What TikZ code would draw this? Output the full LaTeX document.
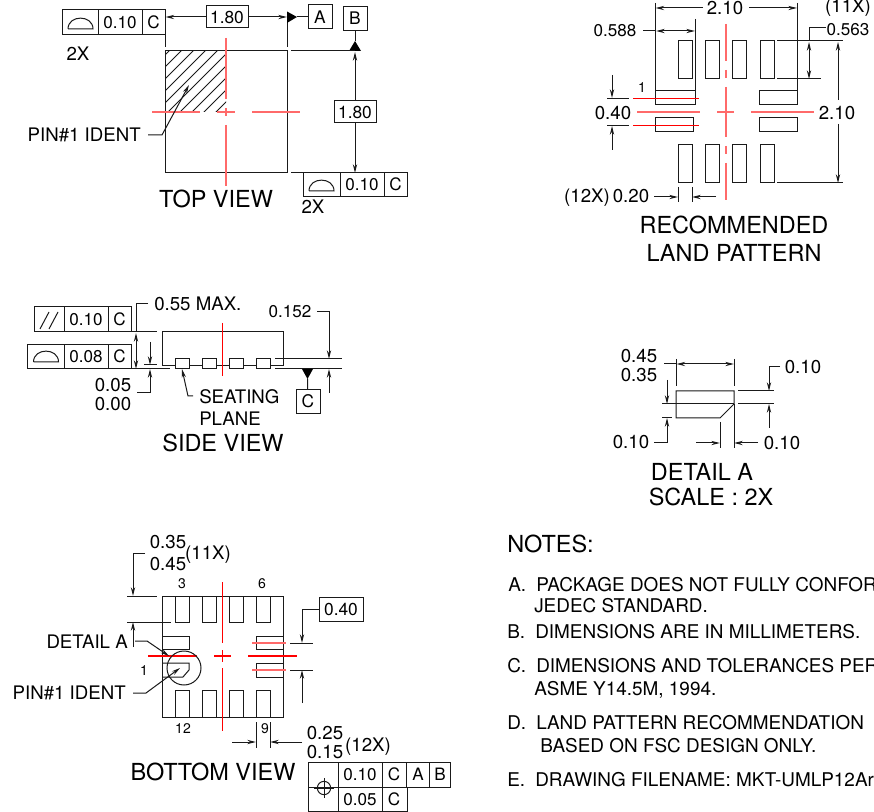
\documentclass[tikz,border=0pt]{standalone}
\usepackage{fontspec}
\setmainfont{TeX Gyre Heros}
\usetikzlibrary{arrows.meta}
\definecolor{ink}{HTML}{1A1A1A}
\definecolor{redsoft}{HTML}{FF6A6A}
\newcounter{tc}
\newcommand\lbx[5]{\stepcounter{tc}\node[anchor=#1,inner sep=0pt,text=black,font=\fontsize{#2}{#2}\selectfont] (t\thetc) at (#3,#4) {\vphantom{0}\smash{#5}};}
\newcommand\tbig[3]{\lbx{center}{17.6}{#1}{#2}{#3}}
\newcommand\tmid[3]{\lbx{center}{14}{#1}{#2}{#3}}
\newcommand\tbx[3]{\lbx{center}{12.8}{#1}{#2}{#3}}
\newcommand\tsm[3]{\lbx{center}{10.5}{#1}{#2}{#3}}
\newcommand\tnt[3]{\lbx{west}{14.2}{#1}{#2}{#3}}
\newcommand\semisym[2]{\draw[ln] (#1-12.5,#2) -- (#1+12.5,#2) .. controls (#1+12.5,#2-14.5) and (#1-12.5,#2-14.5) .. (#1-12.5,#2);}
% x0, d1, d2, x3, y0, y1, value
\newcommand\frm[7]{\draw[ln] (#1,#5) rectangle (#4,#6) (#2,#5) -- (#2,#6) (#3,#5) -- (#3,#6);
\tbx{{(#2+#3)/2}}{{(#5+#6)/2}}{#7}\tbx{{(#3+#4)/2}}{{(#5+#6)/2}}{C}}
\newcommand\padr[4]{\draw[ln] (#1,#2) rectangle (#3,#4);}
\begin{document}
\begin{tikzpicture}[x=0.75pt,y=-0.75pt,
  ln/.style={draw=ink,line width=0.75pt},
  ar/.style={ln,-{Stealth[length=6.5pt,width=3.2pt]}},
  dar/.style={ln,{Stealth[length=6.5pt,width=3.2pt]}-{Stealth[length=6.5pt,width=3.2pt]}},
  rd/.style={draw=redsoft,line width=1.1pt},
  rdt/.style={draw=red,line width=0.8pt},
  dbox/.style={draw=ink,line width=0.75pt,inner sep=0pt,font=\fontsize{13}{13}\selectfont}]
\useasboundingbox (0,0) rectangle (874,812);
\fill[white] (0,0) rectangle (874,812);

% ---------- TOP VIEW
\begin{scope}
\clip (165,51) rectangle (226,112);
\foreach \c in {220,232,...,328} \draw[ln,line width=0.6pt] (\c-170,170) -- (\c-40,40);
\end{scope}
\draw[ln] (165,51) rectangle (287,173);
\foreach \a/\b in {38/99,108/116,125/186} \draw[rd] (226,\a) -- (226,\b);
\foreach \a/\b in {152/200,217/235,252/300} \draw[rd] (\a,112) -- (\b,112);
\frm{62}{98}{142}{165}{10}{35}{0.10}
\semisym{80.5}{29}
\tmid{78}{54}{2X}
\draw[ln] (165,35) -- (165,47);
\draw[ln] (287,12) -- (287,47);
\node[dbox,minimum width=31.5pt,minimum height=16.5pt] (d1) at (227,17) {1.80};
\draw[ar] (d1) -- (165.5,17);
\draw[ar] (d1) -- (287,17);
\node[dbox,minimum size=18pt] (dA) at (320,17) {A};
\node[dbox,minimum size=18pt] (dB) at (355,18.5) {B};
\fill[black] (287,11.5) -- (297,17) -- (287,23) -- cycle;
\coordinate (tA) at (297,17);
\draw[ln] (tA) -- (dA);
\fill[black] (349,51) -- (355,41) -- (361,51) -- cycle;
\coordinate (tB) at (355,41);
\draw[ln] (dB) -- (tB);
\draw[ln] (291,51) -- (355,51);
\draw[ln] (291,173) -- (303,173);
\node[dbox,minimum width=31.5pt,minimum height=16.5pt] (d2) at (355,112) {1.80};
\draw[ar] (d2) -- (355,52);
\draw[ar] (d2) -- (355,173);
\frm{303}{340}{384}{407}{173}{197}{0.10}
\semisym{321.5}{191}
\tmid{313}{207}{2X}
\lbx{east}{14}{141}{135}{PIN\#1 IDENT}
\draw[ar] (148,135) -- (162,135) -- (189,85);
\tbig{216}{199}{TOP VIEW}

% ---------- LAND PATTERN
\foreach \x/\w in {678/692,705/719,732/746,760/774} {\padr{\x}{41}{\w}{79}\padr{\x}{145}{\w}{183}}
\padr{655}{91}{695}{105}
\padr{655}{118}{693}{132}
\padr{759}{91}{797}{105}
\padr{759}{118}{797}{132}
\foreach \a/\b in {24/61,70/78,87/137,146/154,163/200} \draw[rd] (726,\a) -- (726,\b);
\foreach \a/\b in {637/700,717/734,751/814} \draw[rd] (\a,112) -- (\b,112);
\draw[rdt] (633,98.5) -- (699,98.5);
\draw[rdt] (633,125.5) -- (699,125.5);
\draw[ln] (607,98.5) -- (629,98.5);
\draw[ln] (607,125.5) -- (629,125.5);
\draw[ar] (612,75) -- (612,98);
\draw[ar] (612,150) -- (612,126);
\tmid{613}{113}{0.40}
\draw[ln] (655,3) -- (655,91);
\draw[ln] (797,3) -- (797,91);
\tmid{725}{8}{2.10}
\draw[ar] (703,8) -- (655.5,8);
\draw[ar] (749,8) -- (797,8);
\lbx{center}{12.8}{615}{31}{0.588}
\draw[ln] (643,31) -- (655,31);
\draw[dar] (656,31) -- (695,31);
\draw[ln] (695,19) -- (695,91);
\tmid{848}{6}{(11X)}
\lbx{center}{12.8}{848}{30}{0.563}
\draw[ln] (826,28) -- (809,28) -- (809,41);
\draw[dar] (809,42) -- (809,79);
\draw[ln] (777,41) -- (843,41);
\draw[ln] (777,79) -- (821,79);
\draw[ln] (777,183) -- (843,183);
\tmid{837}{113}{2.10}
\draw[ar] (838,100) -- (838,42);
\draw[ar] (838,124) -- (838,183);
\tmid{587}{196}{(12X)}
\tmid{631}{196}{0.20}
\draw[ln] (678,187) -- (678,202);
\draw[ln] (692,187) -- (692,202);
\draw[ar] (654,197) -- (678,197);
\draw[ar] (716,197) -- (692,197);
\tsm{642}{88}{1}
\tbig{734}{225}{RECOMMENDED}
\tbig{734}{253}{LAND PATTERN}

% ---------- SIDE VIEW
\frm{34}{64}{108}{131}{307}{332}{0.10}
\draw[ln] (40,329) -- (49,312) (49,329) -- (58,312);
\frm{27}{64}{108}{131}{345}{369}{0.08}
\semisym{46}{362}
\draw[ln] (131,332) -- (157,332);
\draw[ln] (131,369) -- (170,369);
\draw[ln] (162,366) -- (162,332) -- (283,332) -- (283,366);
\draw[ln] (162,366) -- (175,366) (189,366) -- (202,366) (216,366) -- (229,366) (243,366) -- (256,366) (270,366) -- (283,366);
\foreach \x/\w in {175/189,202/216,229/243,256/270} \padr{\x}{359}{\w}{369}
\draw[ln] (275,359) -- (342,359);
\draw[ln] (275,369) -- (342,369);
\draw[rdt] (222.5,323) -- (222.5,376);
\lbx{west}{14}{154}{304}{0.55 MAX.}
\draw[ln] (148,304) -- (136,304) -- (136,332);
\draw[dar] (136,333) -- (136,369);
\draw[ln] (144,365) -- (157,365);
\draw[ar] (150,342) -- (150,365);
\draw[ar] (137,393) -- (150,393) -- (150,369);
\tmid{113}{385}{0.05}
\tmid{113}{404}{0.00}
\draw[ar] (193,396) -- (188,396) -- (182,369);
\lbx{west}{14}{199}{397}{SEATING}
\lbx{west}{14}{199}{419}{PLANE}
\tbig{223}{443}{SIDE VIEW}
\lbx{center}{12.8}{290}{312}{0.152}
\draw[ar] (317,312) -- (329,312) -- (329,359);
\draw[ar] (329,393) -- (329,369);
\node[dbox,minimum size=18pt] (dC) at (308,401.5) {C};
\fill[black] (302,369) -- (313,369) -- (307.5,379) -- cycle;
\coordinate (tC) at (307.5,379);
\draw[ln] (tC) -- (dC);

% ---------- DETAIL A
\draw[ln] (676,391) -- (734,391) -- (734,404) -- (720,418) -- (676,418) -- cycle;
\draw[ln] (662,404) -- (734,404);
\draw[ln] (662,418) -- (672,418);
\draw[ln] (676,359) -- (676,386);
\draw[ln] (734,359) -- (734,386);
\draw[ln] (664,364) -- (676,364);
\draw[dar] (676.5,364) -- (734,364);
\tmid{639}{356}{0.45}
\tmid{639}{375}{0.35}
\draw[ar] (667,380) -- (667,404);
\draw[ar] (654,443) -- (667,443) -- (667,418);
\tmid{631}{442}{0.10}
\draw[ar] (780,367) -- (769,367) -- (769,391);
\tmid{803}{367}{0.10}
\draw[ln] (738,391) -- (774,391);
\draw[ln] (738,404) -- (774,404);
\draw[ar] (769,428) -- (769,404);
\draw[ln] (720,422) -- (720,448);
\draw[ln] (734,404) -- (734,448);
\draw[ar] (696,443) -- (720,443);
\draw[ar] (758,443) -- (734,443);
\tmid{782}{443}{0.10}
\tbig{702}{472}{DETAIL A}
\tbig{711}{497}{SCALE : 2X}

% ---------- BOTTOM VIEW
\draw[ln] (162,596) rectangle (283,717);
\foreach \x/\w in {175/189,202/216,229/243,256/270} {
  \draw[ln] (\x,596) -- (\x,622) -- (\w,622) -- (\w,596);
  \draw[ln] (\x,717) -- (\x,690) -- (\w,690) -- (\w,717);}
\draw[ln] (162,636) rectangle (189,649);
\draw[ln] (162,663) -- (189,663) -- (189,670) -- (183,677) -- (162,677);
\draw[ln] (283,636) -- (256,636) -- (256,649) -- (283,649);
\draw[ln] (283,663) -- (256,663) -- (256,677) -- (283,677);
\foreach \a/\b in {582/643,650/662,668/731} \draw[rdt] (222.5,\a) -- (222.5,\b);
\foreach \a/\b in {148/197,214/231,248/297} \draw[rdt] (\a,656) -- (\b,656);
\draw[rd] (252,643) -- (286,643);
\draw[rd] (252,670) -- (286,670);
\draw[ln] (290,643) -- (313,643);
\draw[ln] (290,670) -- (313,670);
\draw[ln] (184,668) circle[radius=12.75pt];
\node[dbox,minimum width=33pt,minimum height=18pt] (d40) at (341,609) {0.40};
\draw[ar] (d40) -- (302,609) -- (302,643);
\draw[ar] (302,703) -- (302,670);
\draw[ln] (127,596) -- (157,596);
\draw[ln] (127,622) -- (171,622);
\draw[ar] (145,553) -- (133,553) -- (133,596);
\draw[ar] (133,647) -- (133,622);
\tmid{168}{542}{0.35}
\tmid{168}{564}{0.45}
\tmid{208}{553}{(11X)}
\tsm{182}{584}{3}
\tsm{262}{584}{6}
\tsm{183}{729}{12}
\tsm{265}{729}{9}
\tsm{144}{671}{1}
\lbx{east}{14}{128}{642}{DETAIL A}
\draw[ar] (135,641) -- (147,641) -- (169,656);
\lbx{east}{14}{126}{693}{PIN\#1 IDENT}
\draw[ar] (133,693) -- (146,693) -- (180,668);
\draw[ln] (256,722) -- (256,748);
\draw[ln] (270,722) -- (270,748);
\draw[ar] (232,742) -- (256,742);
\draw[ar] (302,742) -- (270,742);
\tmid{325}{733}{0.25}
\tmid{325}{752}{0.15}
\tmid{368}{745}{(12X)}
\tbig{213}{772}{BOTTOM VIEW}
% position frame
\draw[ln] (308,762) rectangle (450,787);
\draw[ln] (308,787) rectangle (407,811);
\draw[ln] (338,762) -- (338,811) (382,762) -- (382,811) (406,762) -- (406,787) (429,762) -- (429,787);
\draw[ln] (324,788) circle[radius=5pt];
\draw[ln] (314,788) -- (334,788) (324,778) -- (324,798);
\tbx{360}{775}{0.10}
\tbx{394}{775}{C}
\tbx{418}{775}{A}
\tbx{440}{775}{B}
\tbx{360}{800}{0.05}
\tbx{394}{800}{C}

% ---------- NOTES
\lbx{west}{17.6}{507}{544}{NOTES:}
\tnt{508}{585}{A.}
\tnt{536}{585}{PACKAGE DOES NOT FULLY CONFOR}
\tnt{534}{606}{JEDEC STANDARD.}
\tnt{507}{632}{B.}
\tnt{535}{632}{DIMENSIONS ARE IN MILLIMETERS.}
\tnt{507}{666}{C.}
\tnt{536}{666}{DIMENSIONS AND TOLERANCES PER}
\tnt{534}{689}{ASME Y14.5M, 1994.}
\tnt{507}{723}{D.}
\tnt{536}{723}{LAND PATTERN RECOMMENDATION}
\tnt{540}{746}{BASED ON FSC DESIGN ONLY.}
\tnt{507}{780}{E.}
\tnt{535}{780}{DRAWING FILENAME: MKT-UMLP12Ar}
\end{tikzpicture}
\end{document}
